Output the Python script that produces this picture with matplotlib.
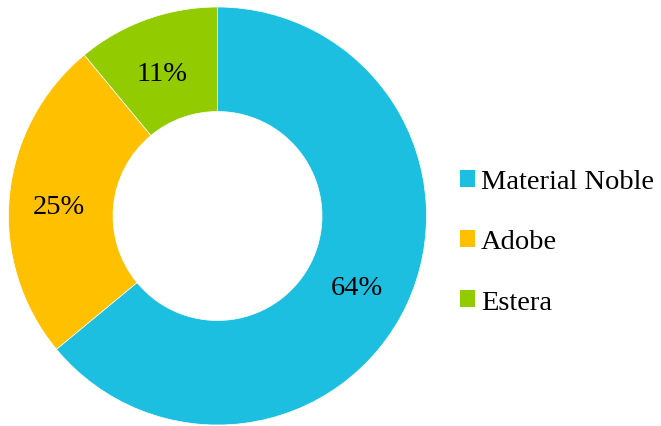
import matplotlib.pyplot as plt
from matplotlib.patches import Patch

labels = ['Material Noble', 'Adobe', 'Estera']
values = [64, 25, 11]
colors = ['#1CBFE0', '#FFC000', '#92CB00']

plt.rcParams['font.family'] = ['Liberation Serif', 'DejaVu Serif']

W, H = 661, 427
fig = plt.figure(figsize=(W / 100, H / 100), dpi=100)

cx, cy, r = 217.5, 217, 209
ax = fig.add_axes([(cx - r) / W, (H - cy - r) / H, 2 * r / W, 2 * r / H])
wedges, texts, autotexts = ax.pie(
    values, colors=colors, startangle=90, counterclock=False, radius=1,
    wedgeprops=dict(width=0.5, edgecolor='white', linewidth=0.5),
    autopct='%d%%', pctdistance=0.75,
    textprops=dict(fontsize=20.5, color='black'))
# nudge the percentages down a little
for t in autotexts:
    x, y = t.get_position()
    t.set_position((x - 0.01, y - 0.025))
ax.set_xlim(-1, 1)
ax.set_ylim(-1, 1)
ax.set_aspect('equal')
ax.axis('off')

handles = [Patch(facecolor=c, edgecolor='none') for c in colors]
fig.legend(handles, labels, loc='center left', bbox_to_anchor=(460 / W, 1 - 243 / H),
           frameon=False, fontsize=20.5, labelspacing=1.23,
           handlelength=0.52, handleheight=0.52, handletextpad=0.22,
           borderaxespad=0, borderpad=0)

fig.savefig('out.png', dpi=100)
